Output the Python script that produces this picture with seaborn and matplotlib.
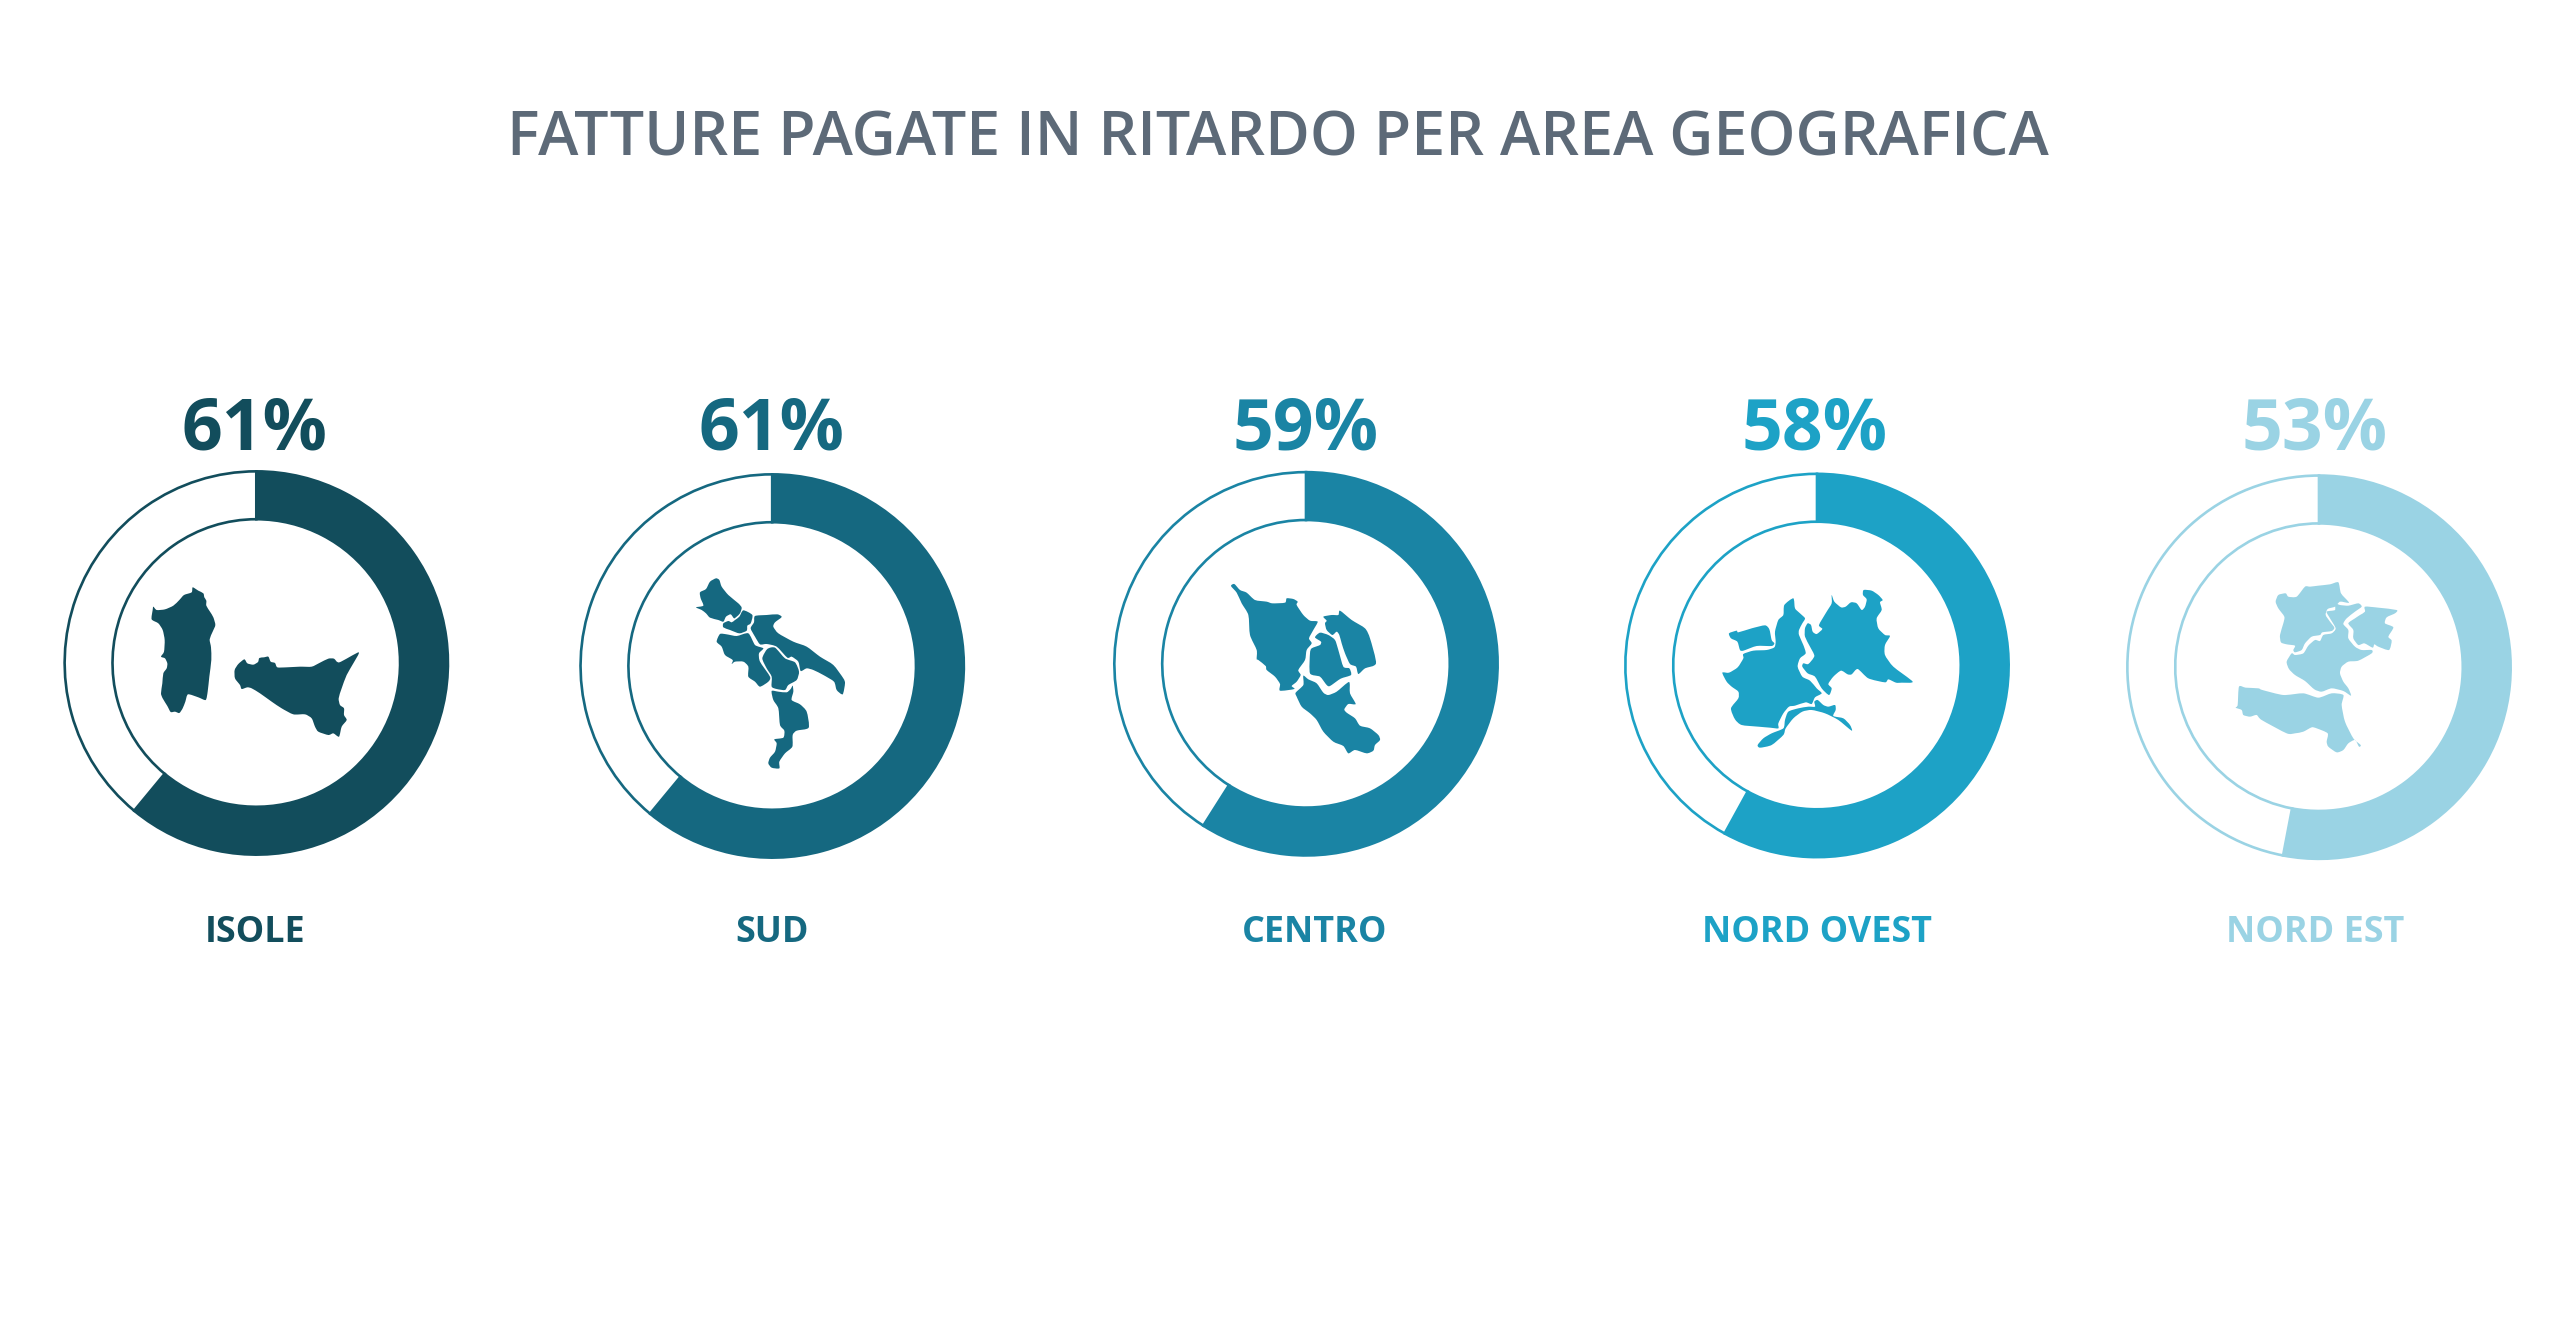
#!/usr/bin/env python3

"""Fatture pagate in ritardo per area geografica: five donuts with map silhouettes"""

import matplotlib
matplotlib.use('Agg')
from matplotlib.path import Path
from matplotlib.patches import PathPatch
import matplotlib.pyplot as plt
import numpy as np
import seaborn as sns

AREAS = ['ISOLE', 'SUD', 'CENTRO', 'NORD OVEST', 'NORD EST']
LATE_PCT = [61, 61, 59, 58, 53]
COLORS = ['#124d5c', '#156880', '#1a84a4', '#1da2c6', '#9ad3e4']
TITLE = 'FATTURE PAGATE IN RITARDO PER AREA GEOGRAFICA'
TITLE_COLOR = '#5d6a78'

# map outlines (3x pixels inside a 230 px box)
SARDEGNA = [(158,82),(175,92),(190,100),(193,112),(199,122),(199,137),(210,155),(220,172),(226,195),(218,215),(209,238),(213,262),(214,300),(208,350),(203,395),(197,420),(175,412),(144,403),(136,425),(128,445),(118,459),(105,455),(92,456),(82,438),(68,415),(63,400),(67,370),(70,340),(80,325),(82,310),(75,295),(63,290),(72,275),(74,240),(68,210),(55,190),(35,178),(38,150),(40,140),(50,150),(75,148),(100,137),(118,120),(132,105),(155,97)]
SICILIA = [(313,298),(322,310),(340,314),(354,306),(358,294),(372,292),(385,290),(392,305),(405,309),(412,322),(440,322),(480,320),(515,320),(540,308),(565,296),(582,296),(598,307),(656,277),(640,310),(620,345),(605,385),(596,415),(600,435),(612,445),(612,465),(620,480),(605,500),(597,530),(580,520),(565,525),(535,515),(525,500),(515,475),(495,463),(460,463),(425,445),(395,425),(360,400),(335,385),(322,382),(305,387),(300,375),(285,355),(284,330),(295,312)]

ABRUZZO = [(168,40),(178,45),(185,65),(205,90),(235,115),(245,128),(240,145),(230,155),(222,160),(212,148),(198,155),(190,170),(175,165),(150,158),(138,145),(125,135),(108,127),(130,122),(122,100),(120,82),(138,72),(150,50)]
MOLISE = [(250,136),(277,150),(272,175),(262,182),(260,197),(238,205),(210,195),(190,187),(190,175),(205,168),(215,172),(225,165),(238,155)]
PUGLIA = [(285,153),(320,150),(352,148),(365,156),(345,172),(340,185),(355,205),(400,230),(440,245),(480,275),(520,300),(550,340),(555,355),(548,388),(530,375),(522,350),(490,330),(460,315),(440,310),(422,318),(415,290),(395,275),(382,278),(350,245),(320,237),(300,238),(285,215),(272,190),(282,172)]
CAMPANIA = [(180,207),(200,208),(230,213),(265,205),(285,240),(310,250),(297,265),(300,290),(330,335),(325,350),(300,365),(285,350),(265,335),(265,305),(250,290),(225,290),(215,297),(218,285),(195,270),(185,245),(170,230)]
BASILICATA = [(322,252),(345,248),(375,280),(405,292),(417,320),(410,345),(385,360),(375,375),(350,372),(335,365),(335,335),(320,310),(307,280)]
CALABRIA = [(335,378),(355,380),(380,382),(392,372),(398,362),(400,380),(395,405),(420,418),(440,440),(446,488),(410,497),(398,510),(397,545),(375,565),(358,590),(358,610),(335,608),(325,595),(330,578),(345,560),(350,535),(343,523),(370,518),(373,497),(360,480),(355,430),(340,405)]

TOSCANA = [(108,78),(118,72),(135,90),(155,98),(180,120),(215,125),(232,130),(270,128),(275,115),(295,117),(308,125),(305,135),(325,165),(345,182),(368,185),(355,210),(342,235),(350,250),(335,270),(330,300),(310,330),(317,345),(305,365),(290,378),(298,387),(255,392),(255,372),(240,350),(215,330),(212,318),(190,300),(185,297),(185,270),(165,225),(160,165),(140,130),(125,98)]
MARCHE = [(385,170),(410,165),(430,165),(435,152),(470,180),(510,205),(525,235),(543,310),(510,325),(490,342),(483,320),(465,312),(450,280),(440,250),(433,225),(425,215),(412,225),(395,210),(390,190),(395,182)]
UMBRIA = [(375,218),(400,225),(420,240),(430,270),(445,320),(463,325),(468,345),(437,356),(405,378),(395,375),(375,350),(345,340),(345,280),(350,265),(375,255),(378,245),(360,232)]
LAZIO = [(325,347),(340,358),(365,370),(385,398),(400,405),(425,395),(462,366),(465,400),(482,432),(460,432),(448,448),(455,458),(480,475),(495,497),(525,505),(550,525),(555,540),(540,555),(535,572),(515,580),(480,570),(460,580),(445,558),(415,545),(385,515),(365,480),(345,460),(320,440),(305,410),(302,398),(325,375)]

AOSTA = [(42,220),(65,212),(70,217),(110,205),(150,196),(163,208),(170,240),(178,250),(170,258),(125,258),(85,272),(75,270),(67,245),(48,235)]
PIEMONTE = [(235,115),(240,145),(255,160),(270,175),(262,190),(252,210),(252,225),(265,255),(272,280),(255,295),(248,320),(262,350),(285,362),(305,385),(320,400),(300,412),(290,432),(272,427),(240,437),(222,440),(205,460),(190,490),(190,505),(165,503),(130,500),(80,495),(60,478),(48,445),(70,415),(70,395),(50,380),(35,365),(22,338),(42,338),(68,322),(85,295),(85,282),(115,272),(155,270),(178,262),(182,245),(180,215),(190,180),(205,165),(208,135)]
LOMBARDIA = [(350,105),(358,125),(378,142),(392,140),(408,127),(425,130),(440,150),(450,140),(455,118),(444,105),(446,90),(470,92),(490,105),(503,120),(495,127),(500,150),(485,175),(490,205),(510,225),(525,228),(510,255),(510,285),(535,320),(593,365),(560,368),(543,368),(520,358),(510,367),(460,355),(428,327),(410,343),(398,343),(378,332),(355,350),(340,372),(350,385),(342,405),(320,385),(300,350),(278,340),(262,320),(265,310),(280,312),(298,288),(285,260),(270,230),(270,205),(278,190),(288,195),(293,215),(305,222),(322,207),(312,195),(335,155),(350,130)]
LIGURIA = [(298,425),(308,420),(325,435),(340,440),(360,435),(362,450),(355,468),(385,475),(405,495),(410,512),(370,480),(330,460),(290,450),(262,455),(235,475),(212,505),(205,525),(170,555),(135,563),(128,555),(145,535),(170,520),(205,505),(210,480),(220,455),(250,445),(280,440),(300,440)]

TRENTINO = [(182,140),(190,120),(212,115),(220,125),(245,125),(270,95),(285,95),(310,92),(345,88),(370,82),(378,115),(402,143),(375,140),(360,155),(338,162),(332,180),(345,200),(358,218),(350,228),(322,232),(315,240),(290,245),(270,265),(260,285),(240,292),(235,285),(240,272),(215,268),(198,262),(195,240),(205,205),(208,185),(190,160)]
FRIULI = [(450,155),(490,158),(545,165),(540,175),(515,187),(510,205),(535,217),(520,245),(530,257),(522,285),(490,275),(478,268),(473,278),(448,265),(430,270),(415,250),(415,225),(400,205),(420,190),(435,180),(450,170)]
VENETO = [(360,145),(375,150),(400,152),(430,145),(440,155),(420,170),(395,190),(385,207),(400,225),(400,250),(420,275),(440,285),(470,285),(470,295),(430,317),(400,320),(380,335),(375,355),(385,380),(400,400),(408,422),(385,408),(350,400),(320,410),(298,403),(270,378),(240,360),(222,342),(215,320),(230,295),(240,300),(265,295),(280,272),(300,255),(315,258),(325,240),(350,235),(362,220),(345,190),(335,170),(360,165)]
EMILIA = [(72,395),(92,398),(130,400),(142,405),(205,420),(265,415),(310,428),(350,415),(385,420),(380,450),(390,500),(415,550),(437,570),(432,575),(420,555),(400,565),(385,585),(365,592),(340,575),(335,560),(338,535),(305,520),(290,517),(265,530),(240,535),(215,535),(140,495),(125,480),(105,485),(85,480),(80,465),(62,458),(68,450)]

MAPS = [
    [SARDEGNA, SICILIA],
    [ABRUZZO, MOLISE, PUGLIA, CAMPANIA, BASILICATA, CALABRIA],
    [TOSCANA, MARCHE, UMBRIA, LAZIO],
    [AOSTA, PIEMONTE, LOMBARDIA, LIGURIA],
    [TRENTINO, FRIULI, VENETO, EMILIA],
]

# layout, in pixels of the final image
WIDTH, HEIGHT = 2560, 1340
RING_X = [256.3, 772.2, 1306, 1817, 2319]
RING_Y = [663, 666, 663.8, 665.5, 667.2]
RING_R = 193
PCT_X = [255, 771.7, 1305.5, 1815, 2315]
LABEL_X = [255, 771.7, 1315, 1816.5, 2315]
MAP_ORIGIN = [(140, 560), (660, 565), (1195, 560), (1715, 560), (2215, 555)]


def draw_ring(fig, cx, cy, pct, color):
    """Draws one donut, filled part clockwise from the top"""
    ax = fig.add_axes([(cx - RING_R) / WIDTH, 1 - (cy + RING_R) / HEIGHT,
                       2 * RING_R / WIDTH, 2 * RING_R / HEIGHT])
    ax.pie([pct, 100 - pct], colors=[color, 'white'], startangle=90,
           counterclock=False, radius=0.993,
           wedgeprops={'width': 0.248, 'edgecolor': color, 'linewidth': 1.9})
    ax.set_xlim(-1, 1)
    ax.set_ylim(-1, 1)


def smooth_path(shape, origin, tension=0.7):
    """Closed Catmull-Rom bezier through the traced outline"""
    pts = np.array(origin) + np.array(shape, dtype=float) / 3
    before, after, after2 = np.roll(pts, 1, 0), np.roll(pts, -1, 0), np.roll(pts, -2, 0)
    ctrl1 = pts + (after - before) / 6 * tension
    ctrl2 = after - (after2 - pts) / 6 * tension
    verts, codes = [pts[0]], [Path.MOVETO]
    for c1, c2, end in zip(ctrl1, ctrl2, after):
        verts += [c1, c2, end]
        codes += [Path.CURVE4] * 3
    return Path(verts + [pts[0]], codes + [Path.CLOSEPOLY])


sns.set_theme(style='white')
plt.rcParams['font.family'] = ['Open Sans', 'DejaVu Sans']
palette = sns.color_palette(COLORS)

fig = plt.figure(figsize=(WIDTH / 100, HEIGHT / 100), dpi=100, facecolor='white')

for cx, cy, pct, color in zip(RING_X, RING_Y, LATE_PCT, palette):
    draw_ring(fig, cx, cy, pct, color)

overlay = fig.add_axes([0, 0, 1, 1], facecolor='none')
overlay.set_xlim(0, WIDTH)
overlay.set_ylim(HEIGHT, 0)
overlay.axis('off')

for shapes, origin, color in zip(MAPS, MAP_ORIGIN, palette):
    for shape in shapes:
        overlay.add_patch(PathPatch(smooth_path(shape, origin), facecolor=color, linewidth=0))

overlay.text(1278, 155, TITLE, color=TITLE_COLOR, fontsize=43.8, fontweight='semibold',
             ha='center', va='baseline')

for x, pct, color in zip(PCT_X, LATE_PCT, palette):
    overlay.text(x, 449, f'{pct}%', color=color, fontsize=51.5, fontweight='bold',
                 ha='center', va='baseline')

for x, area, color in zip(LABEL_X, AREAS, palette):
    overlay.text(x, 942, area, color=color, fontsize=25.8, fontweight='bold',
                 ha='center', va='baseline')

fig.savefig('out.png', dpi=100)
